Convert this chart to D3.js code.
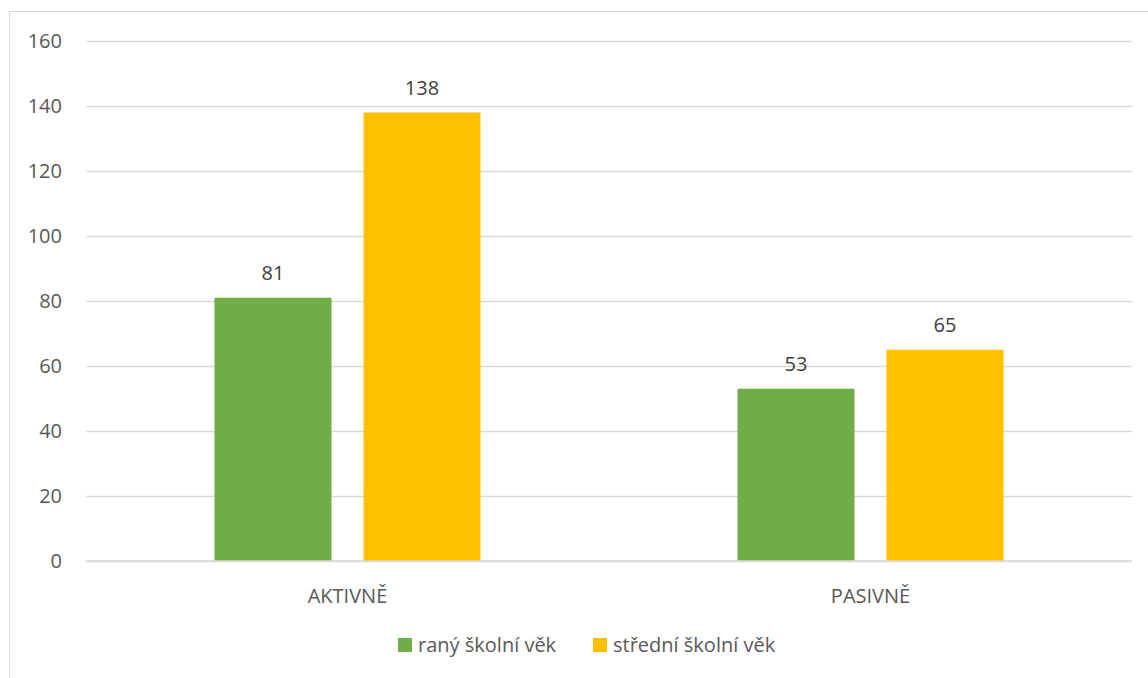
<!DOCTYPE html>
<html><head><meta charset="utf-8">
<script src="https://cdn.jsdelivr.net/npm/d3@7"></script>
<style>body{margin:0;background:#fff}svg{display:block}</style>
</head><body>
<script>
const categories = ["AKTIVNĚ", "PASIVNĚ"];
const seriesNames = ["raný školní věk", "střední školní věk"];
const seriesColors = ["#70AD47", "#FFC000"];
const ranyValues = [81, 53];
const stredniValues = [138, 65];
const yTicks = [0, 20, 40, 60, 80, 100, 120, 140, 160];

(function () {
const W = 1148, H = 678;
const font = "'Open Sans', 'Noto Sans', sans-serif";
const fs = "20px";
const svg = d3.select("body").append("svg").attr("width", W).attr("height", H);

svg.append("rect").attr("x", 9.5).attr("y", 11.5).attr("width", W + 20).attr("height", H + 20)
  .attr("fill", "#fff").attr("stroke", "#d9d9d9").attr("stroke-width", 1);

const mLeft = 86, mRight = 1132, mTop = 41, mBottom = 561;
const y = d3.scaleLinear().domain([0, 160]).range([mBottom, mTop]);
const x = d3.scaleBand().domain(categories).range([mLeft, mRight]);
const inner = d3.scaleBand().domain(seriesNames).range([0, x.bandwidth()]).paddingInner(0.215).paddingOuter(0.8626);

const yAxis = svg.append("g").attr("transform", `translate(${mLeft},0)`)
  .call(d3.axisLeft(y).tickValues(yTicks).tickSize(-(mRight - mLeft)).tickPadding(24));
yAxis.select(".domain").remove();
yAxis.selectAll("line").attr("stroke", "#d9d9d9").attr("stroke-width", 1.3);
yAxis.selectAll("text").attr("fill", "#595959").style("font-family", font).style("font-size", fs);

const series = [ranyValues, stredniValues];
series.forEach((vals, si) => {
  const g = svg.append("g");
  g.selectAll("rect").data(categories).join("rect")
    .attr("x", c => x(c) + inner(seriesNames[si]))
    .attr("y", (c, i) => y(vals[i]))
    .attr("width", inner.bandwidth())
    .attr("height", (c, i) => y(0) - y(vals[i]))
    .attr("fill", seriesColors[si]);
  g.selectAll("text").data(categories).join("text")
    .attr("x", c => x(c) + inner(seriesNames[si]) + inner.bandwidth() / 2)
    .attr("y", (c, i) => y(vals[i]) - 17.5)
    .attr("text-anchor", "middle")
    .attr("fill", "#404040").style("font-family", font).style("font-size", fs)
    .text((c, i) => vals[i]);
});

svg.append("line").attr("x1", mLeft).attr("x2", mRight).attr("y1", y(0)).attr("y2", y(0))
  .attr("stroke", "#d9d9d9").attr("stroke-width", 1.3);

const xAxis = svg.append("g").attr("transform", `translate(0,${mBottom})`)
  .call(d3.axisBottom(x).tickSize(0).tickPadding(28));
xAxis.select(".domain").remove();
xAxis.selectAll("text").attr("fill", "#595959").style("font-family", font).style("font-size", fs);

const legend = svg.append("g");
const legendX = [398, 593];
seriesNames.forEach((n, i) => {
  legend.append("rect").attr("x", legendX[i]).attr("y", 638).attr("width", 14).attr("height", 14).attr("fill", seriesColors[i]);
  legend.append("text").attr("x", legendX[i] + 20).attr("y", 652)
    .attr("fill", "#595959").style("font-family", font).style("font-size", fs).text(n);
});
})();
</script>
</body></html>
